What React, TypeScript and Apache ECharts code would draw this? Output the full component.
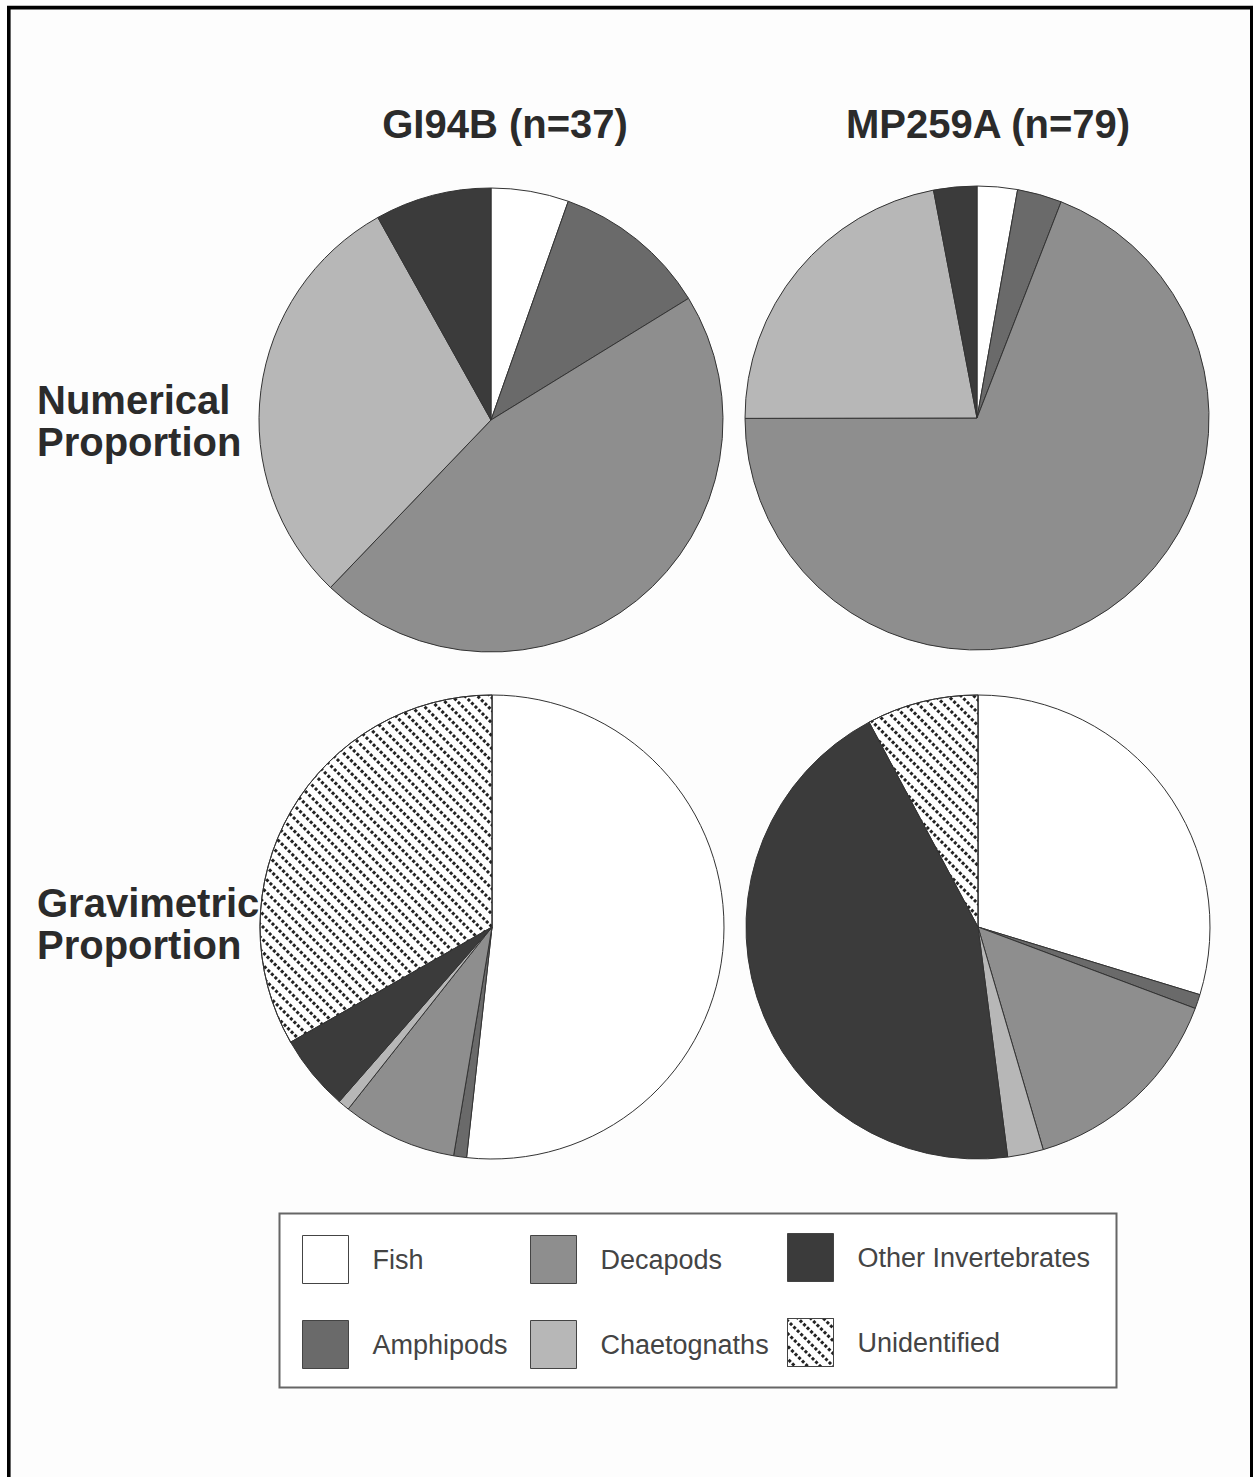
import React, { useEffect, useRef } from "react";
import * as echarts from "echarts";

const CATEGORIES = ["Fish", "Amphipods", "Decapods", "Chaetognaths", "Other Invertebrates", "Unidentified"];
const COLORS = ["#ffffff", "#6a6a6a", "#8e8e8e", "#b7b7b7", "#3b3b3b", "#ffffff"];
const SAMPLE_TITLES = ["GI94B (n=37)", "MP259A (n=79)"];
const ROW_TITLES = [["Numerical", "Proportion"], ["Gravimetric", "Proportion"]];

// values (numerical = counts / %, gravimetric = %)
const GI94B_NUMERICAL = [2, 4, 17, 11, 3, 0];
const MP259A_NUMERICAL = [2.8, 3.1, 69.0, 22.0, 3.0, 0];
const GI94B_GRAVIMETRIC = [51.8, 0.9, 8.0, 0.8, 5.3, 33.3];
const MP259A_GRAVIMETRIC = [29.8, 1.0, 14.8, 2.5, 44.4, 7.8];

const HATCH = {
  symbol: "rect",
  symbolSize: 1,
  color: "#222222",
  dashArrayX: [2.6, 1.8],
  dashArrayY: [2.6, 6],
  rotation: Math.PI / 4,
};

function buildData(values: number[]) {
  return CATEGORIES.map((name, i) => {
    const item: any = { name, value: values[i], itemStyle: { color: COLORS[i] } };
    if (name === "Unidentified") item.itemStyle.decal = HATCH;
    return item;
  }).filter((d) => d.value > 0);
}

function pieSeries(values: number[], center: [number, number]) {
  return {
    type: "pie",
    center,
    radius: 232,
    startAngle: 90,
    clockwise: true,
    silent: true,
    avoidLabelOverlap: false,
    label: { show: false },
    labelLine: { show: false },
    emphasis: { disabled: true },
    itemStyle: { borderColor: "#333", borderWidth: 1 },
    data: buildData(values),
  };
}

const FONT = "'Liberation Sans', Arial, Helvetica, sans-serif";

export default function App() {
  const ref = useRef<HTMLDivElement>(null);
  useEffect(() => {
    document.body.style.margin = "0";
    const chart = echarts.init(ref.current!, null, { renderer: "svg" });
    const legendCommon = {
      orient: "vertical",
      padding: 0,
      itemWidth: 46,
      itemHeight: 48,
      itemGap: 36,
      icon: "rect",
      selectedMode: false,
      itemStyle: { borderColor: "#444", borderWidth: 1 },
      textStyle: { fontFamily: FONT, fontSize: 27, color: "#444", padding: [0, 0, 0, 19] },
    };
    const option: any = {
      animation: false,
      backgroundColor: "#fdfdfd",
      legend: [
        { ...legendCommon, left: 302, top: 1235, data: ["Fish", "Amphipods"] },
        { ...legendCommon, left: 530, top: 1235, data: ["Decapods", "Chaetognaths"] },
        { ...legendCommon, left: 787, top: 1233, data: ["Other Invertebrates", "Unidentified"] },
      ],
      series: [
        pieSeries(GI94B_NUMERICAL, [491, 420]),
        pieSeries(MP259A_NUMERICAL, [977, 418]),
        pieSeries(GI94B_GRAVIMETRIC, [492, 927]),
        pieSeries(MP259A_GRAVIMETRIC, [978, 927]),
      ],
      graphic: [
        {
          type: "polyline",
          silent: true,
          shape: { points: [[8.8, 1477], [8.8, 7.6], [1251.8, 7.6], [1251.8, 1477]] },
          style: { stroke: "#000", lineWidth: 3.6, fill: null },
        },
        {
          type: "rect",
          silent: true,
          z: -1,
          shape: { x: 279.5, y: 1213.5, width: 837, height: 174 },
          style: { stroke: "#666", lineWidth: 2, fill: "#ffffff" },
        },
        ...SAMPLE_TITLES.map((t, i) => ({
          type: "text",
          silent: true,
          x: i === 0 ? 505 : 988,
          y: 124,
          style: {
            text: t,
            fontFamily: FONT,
            fontSize: 40,
            fontWeight: "bold",
            fill: "#2b2b2b",
            textAlign: "center",
            textVerticalAlign: "middle",
          },
        })),
        ...ROW_TITLES.flatMap((lines, r) =>
          lines.map((t, j) => ({
            type: "text",
            silent: true,
            x: 37,
            y: (r === 0 ? 400 : 903) + j * 42,
            style: {
              text: t,
              fontFamily: FONT,
              fontSize: 40,
              fontWeight: "bold",
              fill: "#2b2b2b",
              textAlign: "left",
              textVerticalAlign: "middle",
            },
          }))
        ),
      ],
    };
    chart.setOption(option);
    return () => chart.dispose();
  }, []);
  return <div ref={ref} style={{ position: "absolute", left: 0, top: 0, width: 1253, height: 1477 }} />;
}
